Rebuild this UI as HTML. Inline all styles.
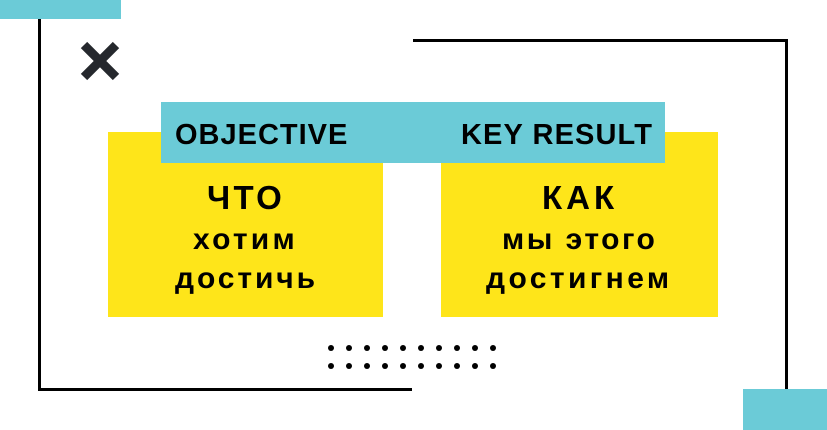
<!DOCTYPE html>
<html><head><meta charset="utf-8"><style>
body{margin:0;width:827px;height:430px;background:#fff;position:relative;overflow:hidden;font-family:"Liberation Sans",sans-serif;font-weight:bold;color:#000}
div{position:absolute}
.t{white-space:nowrap;line-height:1}
</style></head><body>
<div style="left:0;top:0;width:121px;height:19px;background:#6bcbd7"></div>
<div style="left:38px;top:19px;width:3px;height:372px;background:#000"></div>
<div style="left:38px;top:388px;width:374px;height:3px;background:#000"></div>
<div style="left:413px;top:39px;width:375px;height:3px;background:#000"></div>
<div style="left:785px;top:39px;width:3px;height:351px;background:#000"></div>
<div style="left:743px;top:389px;width:84px;height:41px;background:#6bcbd7"></div>
<svg style="position:absolute;left:79px;top:40px" width="42" height="42"><path d="M5 5L37 37M37 5L5 37" stroke="#25282d" stroke-width="9"/></svg>
<div style="left:108px;top:132px;width:275px;height:185px;background:#fee51a"></div>
<div style="left:441px;top:132px;width:277px;height:185px;background:#fee51a"></div>
<div style="left:161px;top:102px;width:504px;height:61px;background:#6bcbd7"></div>
<div class="t" style="left:175px;top:121px;font-size:29px;letter-spacing:1px">OBJECTIVE</div>
<div class="t" style="left:461px;top:121px;font-size:29px;letter-spacing:1.1px">KEY RESULT</div>
<div class="t" style="left:207px;top:181px;font-size:33px;letter-spacing:3.3px">ЧТО</div>
<div class="t" style="left:193px;top:225px;font-size:30px;letter-spacing:3.2px">хотим</div>
<div class="t" style="left:175px;top:264px;font-size:30px;letter-spacing:2.9px">достичь</div>
<div class="t" style="left:542px;top:181px;font-size:33px;letter-spacing:4px">КАК</div>
<div class="t" style="left:502px;top:225px;font-size:30px;letter-spacing:2.5px">мы этого</div>
<div class="t" style="left:486px;top:264px;font-size:30px;letter-spacing:3.4px">достигнем</div>
<svg style="position:absolute;left:325px;top:340px" width="180" height="35" fill="#000">
<g id="r"><circle cx="6" cy="8" r="3"/><circle cx="24" cy="8" r="3"/><circle cx="42" cy="8" r="3"/><circle cx="60" cy="8" r="3"/><circle cx="78" cy="8" r="3"/><circle cx="96" cy="8" r="3"/><circle cx="114" cy="8" r="3"/><circle cx="132" cy="8" r="3"/><circle cx="150" cy="8" r="3"/><circle cx="168" cy="8" r="3"/></g>
<use href="#r" y="18"/>
</svg>
</body></html>
